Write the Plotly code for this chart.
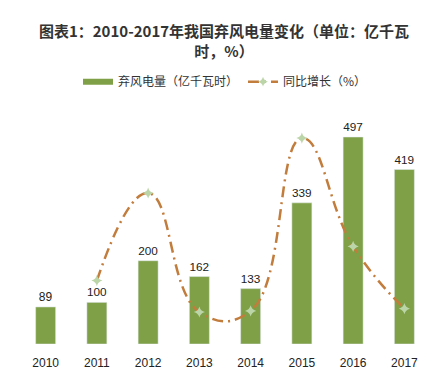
import plotly.graph_objects as go

years = ["2010", "2011", "2012", "2013", "2014", "2015", "2016", "2017"]
curtailed = [89, 100, 200, 162, 133, 339, 497, 419]
growth_years = ["2011", "2012", "2013", "2014", "2015", "2016", "2017"]
growth = [12.4, 100.0, -19.0, -17.9, 154.9, 46.6, -15.7]

FONT = "Noto Sans CJK SC, Noto Sans, sans-serif"
NUMFONT = "Liberation Sans, Arial, sans-serif"
BAR_COLOR = "#7FA046"
LINE_COLOR = "#C27C3C"
DASH = "11px,5px,2px,5px"

fig = go.Figure()
fig.add_trace(go.Bar(
    x=years, y=curtailed, name="弃风电量（亿千瓦时）",
    marker=dict(color=BAR_COLOR),
    width=0.39, showlegend=False,
    text=[str(v) for v in curtailed], textposition="outside",
    textfont=dict(size=12, color="#222222", family=NUMFONT),
    cliponaxis=False,
))
fig.add_trace(go.Scatter(
    x=growth_years, y=growth, name="同比增长（%）", yaxis="y2",
    mode="lines+markers", showlegend=False,
    line=dict(color=LINE_COLOR, width=2.5, dash=DASH, shape="spline", smoothing=1.3),
    marker=dict(symbol="star-diamond", size=8, color="#BCD5A8"),
))
# legend entries
fig.add_trace(go.Scatter(
    x=[None], y=[None], name="弃风电量（亿千瓦时）", mode="lines",
    line=dict(color=BAR_COLOR, width=6),
))
fig.add_trace(go.Scatter(
    x=[None], y=[None], name="同比增长（%）", mode="lines+markers", yaxis="y2",
    line=dict(color=LINE_COLOR, width=2.5, dash=DASH),
    marker=dict(symbol="star-diamond", size=7, color="#BCD5A8"),
))

fig.update_layout(
    width=448, height=374,
    margin=dict(l=20, r=18, t=100, b=30),
    paper_bgcolor="white", plot_bgcolor="white",
    font=dict(family=FONT, color="#333333"),
    title=dict(
        text="<b>图表1：2010-2017年我国弃风电量变化（单位：亿千瓦<br>时，%）</b>",
        x=0.5, xanchor="center", y=0.90, yanchor="top",
        font=dict(size=15, color="#333333", family=FONT),
    ),
    legend=dict(
        orientation="h", x=0.5, xanchor="center", y=1.075, yanchor="middle",
        font=dict(size=12, color="#333333", family=FONT),
        itemwidth=30, traceorder="normal", bgcolor="rgba(0,0,0,0)",
    ),
    xaxis=dict(
        showgrid=False, showline=False, ticks="outside", ticklen=8, tickcolor="rgba(0,0,0,0)",
        tickfont=dict(size=12, color="#222222", family=NUMFONT), automargin=False,
    ),
    yaxis=dict(range=[0, 586], visible=False, showgrid=False, automargin=False),
    yaxis2=dict(range=[-51, 193], overlaying="y", side="right", visible=False, showgrid=False,
                automargin=False),
    bargap=0.6,
)

fig.write_html("out.html", config={"displayModeBar": False},
               post_script="document.body.style.margin='0';")
